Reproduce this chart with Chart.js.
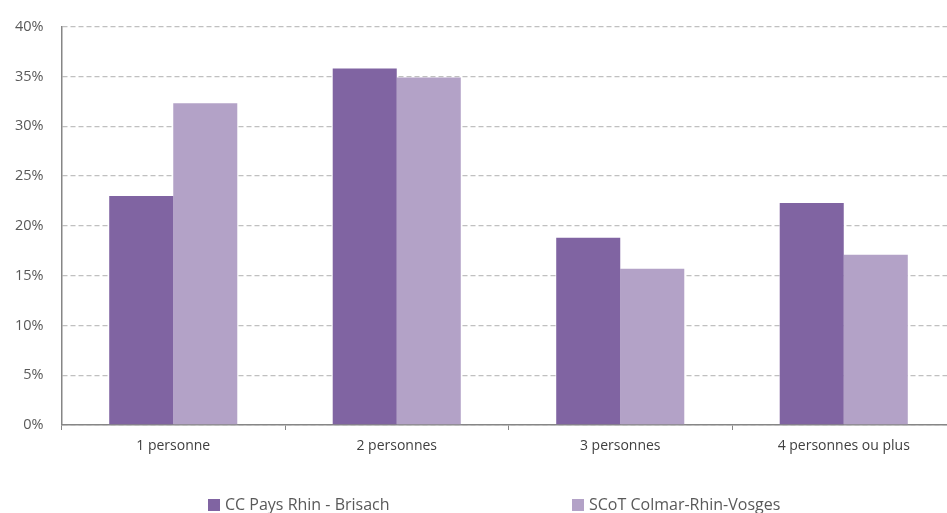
<!DOCTYPE html>
<html><head><meta charset="utf-8">
<script src="https://cdn.jsdelivr.net/npm/chart.js@4.4.1/dist/chart.umd.min.js"></script>
<style>
html,body{margin:0;padding:0;background:#fff;overflow:hidden;width:947px;height:513px;}
#wrap{position:absolute;left:0;top:0;width:970px;height:513px;}
#legend{position:absolute;top:494px;left:0;width:947px;height:20px;font-family:"Open Sans",sans-serif;font-size:16px;color:#595959;}
.li{position:absolute;top:0;white-space:nowrap;line-height:20px;}
.bx{display:inline-block;width:12px;height:12px;margin-right:5px;vertical-align:-1px;}
</style></head><body>
<div id="wrap"><canvas id="c" width="970" height="513"></canvas></div>
<div id="legend"></div>
<script>
const categories = ["1 personne", "2 personnes", "3 personnes", "4 personnes ou plus"];
const seriesNames = ["CC Pays Rhin - Brisach", "SCoT Colmar-Rhin-Vosges"];
const ccValues = [23.0, 35.8, 18.8, 22.3];
const scotValues = [32.3, 34.9, 15.7, 17.1];
const yTicks = [0, 5, 10, 15, 20, 25, 30, 35, 40];
const colors = ["#8064A2", "#B3A2C7"];

const chart = new Chart(document.getElementById('c'), {
  type: 'bar',
  data: {
    labels: categories,
    datasets: [
      {label: seriesNames[0], data: ccValues, backgroundColor: colors[0]},
      {label: seriesNames[1], data: scotValues, backgroundColor: colors[1]}
    ]
  },
  options: {
    responsive: false,
    animation: false,
    layout: {padding: {left: 0, right: 14.5, top: 18, bottom: 48}},
    datasets: {bar: {categoryPercentage: 0.573, barPercentage: 1}},
    plugins: {legend: {display: false}, tooltip: {enabled: false}},
    scales: {
      x: {
        grid: {display: true, drawOnChartArea: false, drawTicks: true, tickLength: 5, offset: true, color: '#868686', tickColor: '#868686'},
        border: {display: true, color: '#868686', width: 1.5},
        ticks: {color: '#404040', font: {family: 'Open Sans', size: 14}, padding: 8, maxRotation: 0},
        afterFit: s => { s.height = 40; }
      },
      y: {
        min: 0, max: 40,
        afterBuildTicks: s => { s.ticks = yTicks.map(v => ({value: v})); },
        grid: {color: '#C0C0C0', lineWidth: 1.3, drawTicks: false},
        border: {display: true, color: '#868686', width: 1.5, dash: [5, 3]},
        ticks: {color: '#595959', font: {family: 'Open Sans', size: 14.5}, padding: 18, callback: v => v + '%'},
        afterFit: s => { s.width = 61.5; }
      }
    }
  }
});

const lg = document.getElementById('legend');
const lx = [208, 572];
seriesNames.forEach((n, i) => {
  const d = document.createElement('div');
  d.className = 'li';
  d.style.left = lx[i] + 'px';
  d.innerHTML = '<span class="bx" style="background:' + colors[i] + '"></span>' + n;
  lg.appendChild(d);
});
</script>
</body></html>
